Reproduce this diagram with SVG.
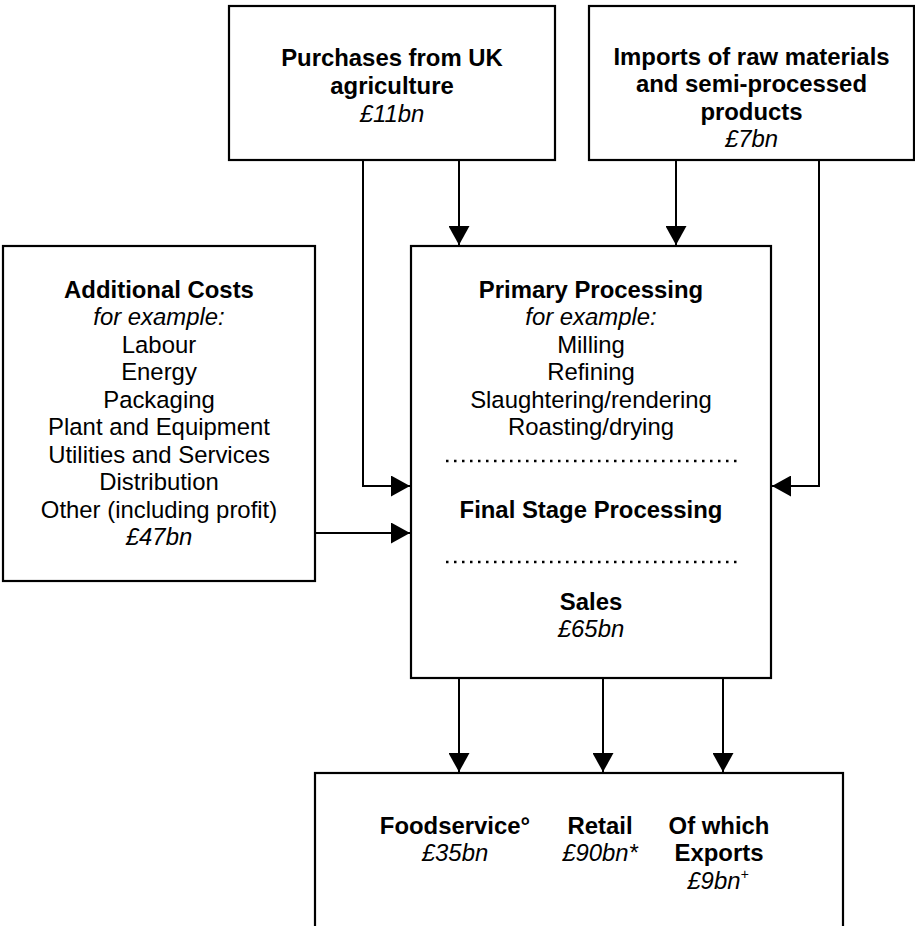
<svg xmlns="http://www.w3.org/2000/svg" width="915" height="926" viewBox="0 0 915 926">
<style>
.box{fill:#fff;stroke:#000;stroke-width:2.2}
.c{stroke:#000;stroke-width:2;fill:none}
.dot{stroke:#000;stroke-width:2.5;stroke-dasharray:2.5 5.5;fill:none}
text{font-family:"Liberation Sans",Arial,sans-serif;font-size:23.9px;text-anchor:middle;fill:#000}
.b{font-weight:bold}
.i{font-style:italic}
</style>
<defs>
<marker id="ah" markerUnits="userSpaceOnUse" markerWidth="21" markerHeight="21" refX="19" refY="10.5" orient="auto">
<path d="M0,0 L19,10.5 L0,21 z" fill="#000"/>
</marker>
</defs>
<rect width="915" height="926" fill="#fff"/>
<g id="purchases">
<rect class="box" x="229" y="6" width="326" height="154"/>
<text x="392" y="65.5" class="b">Purchases from UK</text>
<text x="392" y="93.5" class="b">agriculture</text>
<text x="392" y="121.5" class="i">£11bn</text>
</g>
<g id="imports">
<rect class="box" x="589" y="6" width="325" height="154"/>
<text x="751.5" y="64.5" class="b">Imports of raw materials</text>
<text x="751.5" y="92" class="b">and semi-processed</text>
<text x="751.5" y="119.5" class="b">products</text>
<text x="751.5" y="147" class="i">£7bn</text>
</g>
<g id="additional">
<rect class="box" x="3" y="246" width="312" height="335"/>
<text x="159" y="297.5" class="b">Additional Costs</text>
<text x="159" y="325" class="i">for example:</text>
<text x="159" y="352.5">Labour</text>
<text x="159" y="380">Energy</text>
<text x="159" y="407.5">Packaging</text>
<text x="159" y="435">Plant and Equipment</text>
<text x="159" y="462.5">Utilities and Services</text>
<text x="159" y="490">Distribution</text>
<text x="159" y="517.5">Other (including profit)</text>
<text x="159" y="545" class="i">£47bn</text>
</g>
<g id="processing">
<rect class="box" x="411" y="246" width="360" height="432"/>
<text x="591" y="297.5" class="b">Primary Processing</text>
<text x="591" y="325" class="i">for example:</text>
<text x="591" y="352.5">Milling</text>
<text x="591" y="380">Refining</text>
<text x="591" y="407.5">Slaughtering/rendering</text>
<text x="591" y="435">Roasting/drying</text>
<line class="dot" x1="446" y1="461" x2="740" y2="461"/>
<text x="591" y="517.5" class="b">Final Stage Processing</text>
<line class="dot" x1="446" y1="562" x2="740" y2="562"/>
<text x="591" y="609.5" class="b">Sales</text>
<text x="591" y="637" class="i">£65bn</text>
</g>
<g id="outlets">
<rect class="box" x="315" y="773" width="528" height="200"/>
<text x="455" y="833.5" class="b">Foodservice°</text>
<text x="455" y="861" class="i">£35bn</text>
<text x="600" y="833.5" class="b">Retail</text>
<text x="600" y="861" class="i">£90bn*</text>
<text x="719" y="833.5" class="b">Of which</text>
<text x="719" y="861" class="b">Exports</text>
<text x="718" y="889" class="i">£9bn<tspan dy="-10" font-size="14">+</tspan></text>
</g>
<g id="connectors">
<line class="c" x1="459" y1="160" x2="459" y2="245" marker-end="url(#ah)"/>
<polyline class="c" points="363,160 363,486 410,486" marker-end="url(#ah)"/>
<line class="c" x1="676" y1="160" x2="676" y2="245" marker-end="url(#ah)"/>
<polyline class="c" points="819,160 819,486 772,486" marker-end="url(#ah)"/>
<line class="c" x1="315" y1="533" x2="410" y2="533" marker-end="url(#ah)"/>
<line class="c" x1="459" y1="678" x2="459" y2="772" marker-end="url(#ah)"/>
<line class="c" x1="603" y1="678" x2="603" y2="772" marker-end="url(#ah)"/>
<line class="c" x1="723" y1="678" x2="723" y2="772" marker-end="url(#ah)"/>
</g>
</svg>
